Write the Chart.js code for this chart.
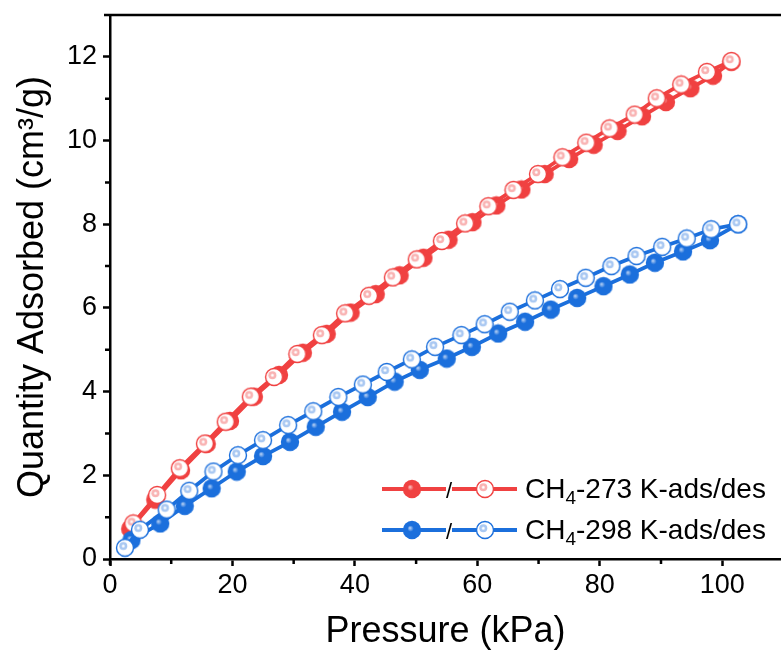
<!DOCTYPE html>
<html>
<head>
<meta charset="utf-8">
<script src="https://cdn.jsdelivr.net/npm/chart.js@4.4.0/dist/chart.umd.min.js"></script>
<style>
  html, body { margin: 0; padding: 0; background: #fff; overflow: hidden; }
  canvas { display: block; }
</style>
</head>
<body>
<canvas id="grafico" width="781" height="661"></canvas>
<script>
// CH4 273 K
const red273AdsX = [3.3, 7.4, 11.6, 15.8, 19.6, 23.5, 27.6, 31.5, 35.4, 39.3, 43.4, 47.3, 51.2, 55.3, 59.2, 63.1, 67.2, 71.0, 75.0, 79.0, 82.9, 86.9, 90.8, 94.8, 98.5, 101.5];
const red273AdsY = [0.72, 1.42, 2.12, 2.75, 3.30, 3.88, 4.40, 4.93, 5.38, 5.89, 6.33, 6.78, 7.20, 7.63, 8.05, 8.45, 8.83, 9.20, 9.56, 9.90, 10.23, 10.58, 10.92, 11.25, 11.55, 11.88];
const red273DesX = [3.8, 7.7, 11.4, 15.5, 18.9, 23.0, 26.8, 30.6, 34.6, 38.4, 42.3, 46.2, 50.1, 54.2, 58.0, 61.8, 65.9, 69.9, 73.9, 77.8, 81.6, 85.7, 89.3, 93.3, 97.5, 101.5];
const red273DesY = [0.85, 1.53, 2.17, 2.76, 3.28, 3.88, 4.35, 4.90, 5.35, 5.87, 6.29, 6.73, 7.16, 7.60, 8.02, 8.43, 8.82, 9.20, 9.60, 9.95, 10.29, 10.62, 11.01, 11.34, 11.64, 11.90];

// CH4 298 K
const blue298AdsX = [3.5, 8.2, 12.2, 16.6, 20.7, 25.0, 29.4, 33.6, 37.9, 42.1, 46.5, 50.6, 55.0, 59.1, 63.4, 67.8, 72.0, 76.3, 80.6, 84.9, 89.0, 93.6, 98.0, 102.6];
const blue298AdsY = [0.45, 0.85, 1.27, 1.69, 2.09, 2.46, 2.80, 3.16, 3.52, 3.87, 4.24, 4.52, 4.79, 5.07, 5.39, 5.67, 5.96, 6.24, 6.52, 6.80, 7.08, 7.35, 7.62, 8.00];
const blue298DesX = [2.45, 4.9, 9.25, 12.95, 16.9, 20.9, 25.0, 29.1, 33.2, 37.3, 41.3, 45.2, 49.3, 53.1, 57.4, 61.2, 65.3, 69.4, 73.5, 77.7, 81.9, 86.0, 90.2, 94.2, 98.2, 102.6];
const blue298DesY = [0.27, 0.70, 1.18, 1.63, 2.09, 2.48, 2.84, 3.20, 3.53, 3.87, 4.17, 4.47, 4.77, 5.07, 5.35, 5.61, 5.91, 6.18, 6.45, 6.72, 7.00, 7.24, 7.46, 7.66, 7.88, 8.00];

const xTicks = [0, 20, 40, 60, 80, 100];
const xMinorTicks = [10, 30, 50, 70, 90];
const yTicks = [0, 2, 4, 6, 8, 10, 12];
const yMinorTicks = [1, 3, 5, 7, 9, 11];

const legendLabels = [
  { pre: "CH", sub: "4", post: "-273 K-ads/des" },
  { pre: "CH", sub: "4", post: "-298 K-ads/des" }
];

const RED = "#F04141";
const RED_LIGHT = "#F9B3B3";
const BLUE = "#1B6FDC";
const BLUE_LIGHT = "#A9C8F2";
const FONT = "'Liberation Sans', Arial, sans-serif";

function pares(xs, ys) {
  return xs.map((x, i) => ({ x: x, y: ys[i] }));
}

// little sphere markers like Origin's
function makeBall(color, light, hollow) {
  const c = document.createElement("canvas");
  c.width = 20; c.height = 20;
  const g = c.getContext("2d");
  if (hollow) {
    g.beginPath(); g.arc(10, 10, 8.5, 0, Math.PI * 2);
    g.fillStyle = "#fff"; g.fill();
    g.lineWidth = 1.4; g.strokeStyle = color; g.stroke();
    const rg = g.createRadialGradient(8.3, 8.3, 0.6, 8.3, 8.3, 4);
    rg.addColorStop(0, "#fff"); rg.addColorStop(0.45, light); rg.addColorStop(1, light);
    g.beginPath(); g.arc(8.3, 8.3, 4, 0, Math.PI * 2);
    g.fillStyle = rg; g.fill();
  } else {
    const rg = g.createRadialGradient(8, 8, 0.5, 10, 10, 9.4);
    rg.addColorStop(0, light); rg.addColorStop(0.3, color); rg.addColorStop(1, color);
    g.beginPath(); g.arc(10, 10, 9.2, 0, Math.PI * 2);
    g.fillStyle = rg; g.fill();
  }
  return c;
}

const redFull = makeBall(RED, RED_LIGHT, false);
const redOpen = makeBall(RED, RED_LIGHT, true);
const blueFull = makeBall(BLUE, BLUE_LIGHT, false);
const blueOpen = makeBall(BLUE, BLUE_LIGHT, true);

function serie(label, data, color, ball, order) {
  return {
    label: label,
    data: data,
    borderColor: color,
    backgroundColor: color,
    borderWidth: 3.8,
    pointStyle: ball,
    pointRadius: 9,
    tension: 0,
    order: order
  };
}

// minor ticks, top frame line and legend
const extras = {
  id: "extras",
  afterDraw(chart) {
    const ctx = chart.ctx;
    const xs = chart.scales.x, ys = chart.scales.y;
    const area = chart.chartArea;
    ctx.save();
    ctx.strokeStyle = "#000";
    ctx.lineWidth = 2.5;
    ctx.beginPath();
    xMinorTicks.forEach(v => {
      const px = xs.getPixelForValue(v);
      ctx.moveTo(px, area.bottom); ctx.lineTo(px, area.bottom + 5);
    });
    yMinorTicks.forEach(v => {
      const py = ys.getPixelForValue(v);
      ctx.moveTo(area.left, py); ctx.lineTo(area.left - 5, py);
    });
    ctx.moveTo(area.left - 6, area.top);
    ctx.lineTo(area.right, area.top);
    ctx.moveTo(area.left, area.bottom);
    ctx.lineTo(area.left, area.bottom + 6);
    ctx.stroke();

    // legend
    const rows = [
      { color: RED, full: redFull, open: redOpen, y: area.top + 474 },
      { color: BLUE, full: blueFull, open: blueOpen, y: area.top + 515 }
    ];
    const lx = area.left + 272;
    rows.forEach((r, i) => {
      ctx.strokeStyle = r.color;
      ctx.lineWidth = 3.8;
      ctx.beginPath();
      ctx.moveTo(lx, r.y); ctx.lineTo(lx + 64, r.y);
      ctx.moveTo(lx + 70, r.y); ctx.lineTo(lx + 135, r.y);
      ctx.stroke();
      ctx.drawImage(r.full, lx + 30 - 10, r.y - 10);
      ctx.drawImage(r.open, lx + 103 - 10, r.y - 10);
      ctx.fillStyle = "#000";
      ctx.textBaseline = "alphabetic";
      ctx.textAlign = "center";
      ctx.font = "22px " + FONT;
      ctx.fillText("/", lx + 67, r.y + 9);
      ctx.textAlign = "left";
      const lab = legendLabels[i];
      let tx = lx + 143;
      const base = r.y + 9;
      ctx.font = "28px " + FONT;
      ctx.fillText(lab.pre, tx, base);
      tx += ctx.measureText(lab.pre).width;
      ctx.font = "19px " + FONT;
      ctx.fillText(lab.sub, tx, base + 6);
      tx += ctx.measureText(lab.sub).width;
      ctx.font = "28px " + FONT;
      ctx.fillText(lab.post, tx, base);
    });
    ctx.restore();
  }
};

const ctx = document.getElementById("grafico").getContext("2d");
const chartConfig = {
  type: "line",
  data: {
    datasets: [
      serie("CH4-298 K-des", pares(blue298DesX, blue298DesY), BLUE, blueOpen, 0),
      serie("CH4-298 K-ads", pares(blue298AdsX, blue298AdsY), BLUE, blueFull, 1),
      serie("CH4-273 K-des", pares(red273DesX, red273DesY), RED, redOpen, 2),
      serie("CH4-273 K-ads", pares(red273AdsX, red273AdsY), RED, redFull, 3)
    ]
  },
  options: {
    responsive: false,
    animation: false,
    devicePixelRatio: 1,
    layout: { autoPadding: false, padding: { top: 0, right: 0, left: 0, bottom: 0 } },
    plugins: { legend: { display: false }, tooltip: { enabled: false } },
    scales: {
      x: {
        type: "linear",
        min: 0,
        max: 109.6,
        afterBuildTicks: (scale) => { scale.ticks = xTicks.map(v => ({ value: v })); },
        afterFit: (scale) => { scale.height = 102; scale.paddingLeft = 0; scale.paddingRight = 0; },
        border: { color: "#000", width: 2.5 },
        grid: { drawOnChartArea: false, drawTicks: true, tickLength: 7, tickColor: "#000", tickWidth: 2.5 },
        ticks: { color: "#000", padding: 3, maxRotation: 0, autoSkip: false, font: { family: FONT, size: 27 } },
        title: { display: true, text: "Pressure (kPa)", color: "#000", padding: { top: 0, bottom: 7 }, font: { family: FONT, size: 36 } }
      },
      y: {
        type: "linear",
        min: 0,
        max: 13,
        afterBuildTicks: (scale) => { scale.ticks = yTicks.map(v => ({ value: v })); },
        afterFit: (scale) => { scale.width = 110; scale.paddingTop = 15; scale.paddingBottom = 0; },
        border: { color: "#000", width: 2.5 },
        grid: { drawOnChartArea: false, drawTicks: true, tickLength: 7, tickColor: "#000", tickWidth: 2.5 },
        ticks: { color: "#000", padding: 6, autoSkip: false, font: { family: FONT, size: 27 } },
        title: { display: true, text: "Quantity Adsorbed (cm³/g)", color: "#000", padding: { top: 11, bottom: 0 }, font: { family: FONT, size: 36 } }
      }
    }
  },
  plugins: [extras]
};

const myChart = new Chart(ctx, chartConfig);
</script>
</body>
</html>
